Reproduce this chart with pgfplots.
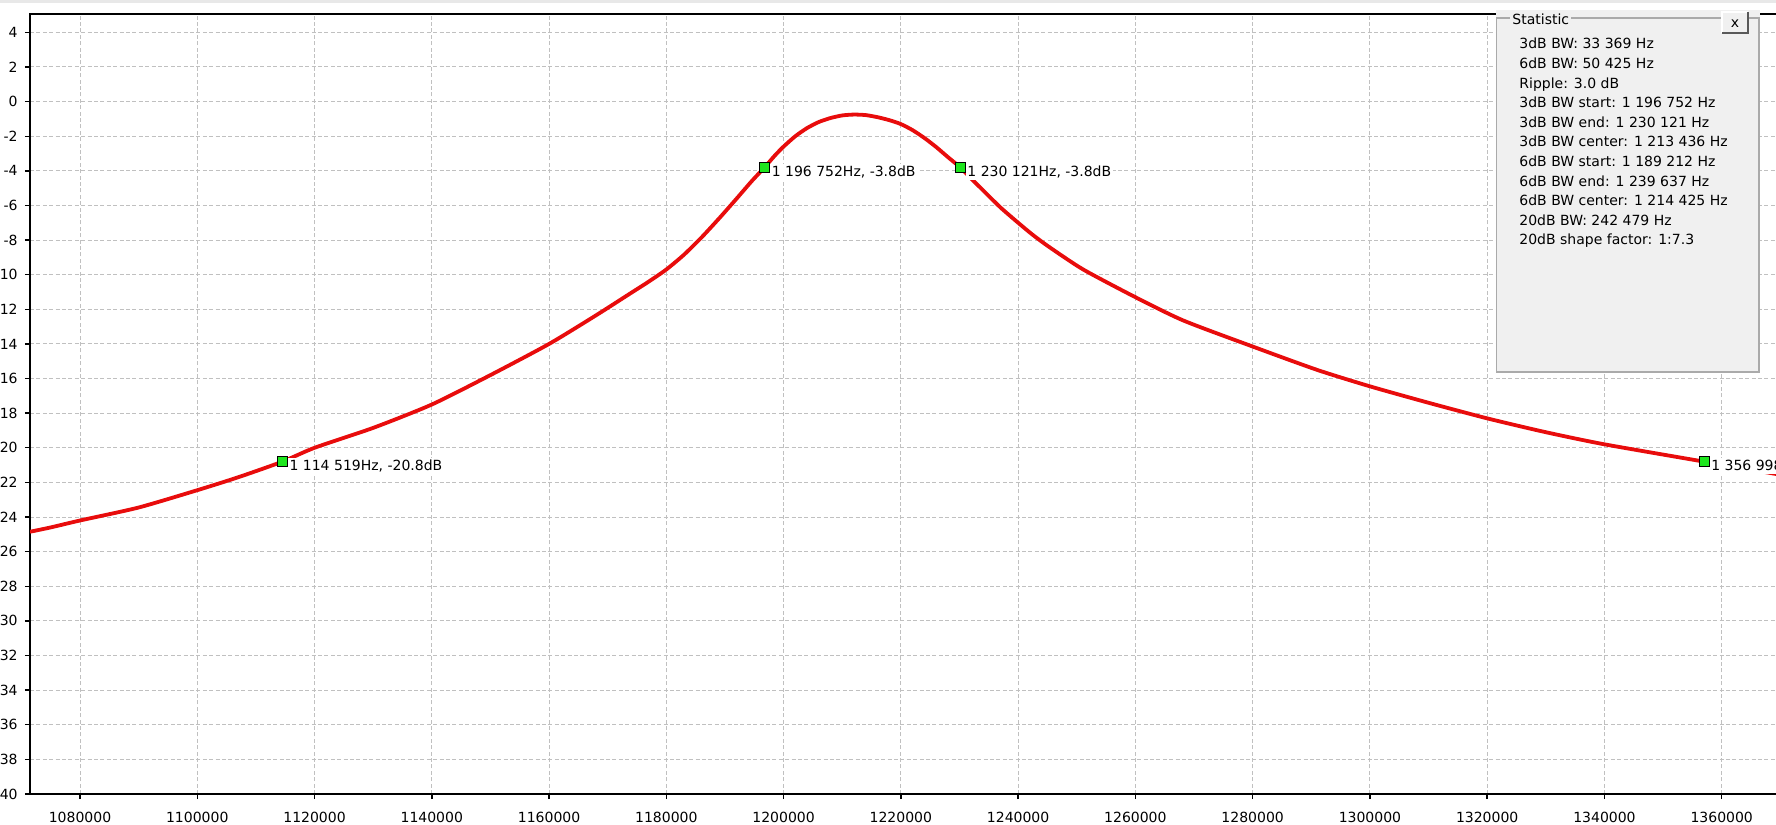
\documentclass[border=0pt]{standalone}
\usepackage{pgfplots}
\pgfplotsset{compat=1.18}
\usepackage{fontspec}
\setmainfont{DejaVu Sans}
\definecolor{curvered}{RGB}{232,12,12}
\definecolor{mgreen}{RGB}{30,230,30}
\definecolor{gridgray}{RGB}{192,192,192}
\definecolor{panelgray}{RGB}{240,240,240}
\definecolor{framegray}{RGB}{170,170,170}
\begin{document}
\begin{tikzpicture}[font=\fontsize{7}{8.4}\selectfont]
\useasboundingbox (-15pt,-15pt) rectangle (873pt,397pt);
\clip (-15pt,-15pt) rectangle (873pt,397pt);
\fill[gray!18] (-15pt,395.6pt) rectangle (873pt,397pt);
\begin{axis}[
  at={(0pt,0pt)}, anchor=south west,
  scale only axis, width=875pt, height=390pt,
  xmin=1071472, xmax=1369943, ymin=-40, ymax=5.06,
  axis line style={black, line width=0.9pt},
  tick align=outside, major tick length=2.5pt,
  tick style={black, line width=0.7pt},
  xtick pos=bottom, ytick pos=left,
  xtick={1080000,1100000,1120000,1140000,1160000,1180000,1200000,1220000,1240000,1260000,1280000,1300000,1320000,1340000,1360000},
  xticklabels={1080000,1100000,1120000,1140000,1160000,1180000,1200000,1220000,1240000,1260000,1280000,1300000,1320000,1340000,1360000},
  ytick={-40,-38,...,4},
  /pgf/number format/assume math mode=true,
  xticklabel style={inner sep=0pt, anchor=north},
  xticklabel shift=6.5pt,
  yticklabel style={inner sep=0pt, anchor=east},
  yticklabel shift=3.5pt,
  grid=major,
  major grid style={gridgray, dash pattern=on 2pt off 1.2pt, line width=0.5pt},
]
\addplot[curvered, line width=1.9pt, smooth, tension=0.4] coordinates {
(1071472,-24.85) (1075000,-24.6) (1080000,-24.2) (1090000,-23.45)
(1100000,-22.45) (1107000,-21.7) (1114519,-20.8) (1120000,-20.0)
(1130000,-18.85) (1140000,-17.5) (1150000,-15.8)
(1160000,-14.0) (1168000,-12.35) (1174000,-11.05) (1177000,-10.4)
(1180000,-9.7) (1183000,-8.85) (1186000,-7.85) (1189000,-6.75)
(1192000,-5.6) (1194500,-4.62) (1196752,-3.8) (1198500,-3.12)
(1200000,-2.6) (1202000,-2.0) (1204000,-1.53) (1206000,-1.18)
(1208000,-0.95) (1210000,-0.8) (1212000,-0.75) (1214000,-0.78)
(1216000,-0.9) (1218000,-1.07) (1220000,-1.3) (1222000,-1.65)
(1224000,-2.1) (1226000,-2.62) (1228000,-3.2) (1230121,-3.8)
(1232000,-4.45) (1234000,-5.12) (1237000,-6.12) (1240000,-7.0)
(1242500,-7.7) (1245300,-8.4) (1251100,-9.7) (1260000,-11.3)
(1268200,-12.65) (1280000,-14.15) (1291000,-15.5) (1300000,-16.45)
(1310000,-17.4) (1320000,-18.3) (1330000,-19.1) (1340000,-19.8)
(1356998,-20.8) (1369900,-21.55)
};
\node[anchor=base west, fill=white, inner sep=0.8pt, xshift=2.6pt, yshift=-4.5pt] at (axis cs:1114519,-20.8) {1 114 519Hz, -20.8dB};
\node[anchor=base west, fill=white, inner sep=0.8pt, xshift=2.6pt, yshift=-4.5pt] at (axis cs:1196752,-3.8) {1 196 752Hz, -3.8dB};
\node[anchor=base west, fill=white, inner sep=0.8pt, xshift=2.6pt, yshift=-4.5pt] at (axis cs:1230121,-3.8) {1 230 121Hz, -3.8dB};
\node[anchor=base west, fill=white, inner sep=0.8pt, xshift=2.6pt, yshift=-4.5pt] at (axis cs:1356998,-20.8) {1 356 998Hz, -20.8dB};
\addplot[only marks, mark=square*, mark size=2.5pt, mark options={fill=mgreen, draw=black, line width=0.5pt}] coordinates {(1114519,-20.8) (1196752,-3.8) (1230121,-3.8) (1356998,-20.8)};
\end{axis}
% Statistic panel
\fill[panelgray] (733pt,210.75pt) rectangle (864.75pt,392pt);
\draw[framegray, line width=0.6pt] (733.3pt,211pt) rectangle (864.5pt,388pt);
\node[anchor=base west, fill=panelgray, inner sep=1pt] at (740pt,384.5pt) {Statistic};
\fill[panelgray] (846pt,380.5pt) rectangle (859pt,391pt);
\draw[white, line width=0.6pt] (846pt,380.5pt) -- (846pt,391pt) -- (859pt,391pt);
\draw[gray!70!black, line width=0.6pt] (846pt,380.5pt) -- (859pt,380.5pt) -- (859pt,391pt);
\node[inner sep=0pt] at (852.5pt,385pt) {x};
\node[anchor=base west, inner sep=0pt] at (744.5pt,372.5pt) {3dB BW: 33 369 Hz};
\node[anchor=base west, inner sep=0pt] at (744.5pt,362.7pt) {6dB BW: 50 425 Hz};
\node[anchor=base west, inner sep=0pt] at (744.5pt,352.9pt) {Ripple: 3.0 dB};
\node[anchor=base west, inner sep=0pt] at (744.5pt,343.1pt) {3dB BW start: 1 196 752 Hz};
\node[anchor=base west, inner sep=0pt] at (744.5pt,333.3pt) {3dB BW end: 1 230 121 Hz};
\node[anchor=base west, inner sep=0pt] at (744.5pt,323.5pt) {3dB BW center: 1 213 436 Hz};
\node[anchor=base west, inner sep=0pt] at (744.5pt,313.7pt) {6dB BW start: 1 189 212 Hz};
\node[anchor=base west, inner sep=0pt] at (744.5pt,303.9pt) {6dB BW end: 1 239 637 Hz};
\node[anchor=base west, inner sep=0pt] at (744.5pt,294.1pt) {6dB BW center: 1 214 425 Hz};
\node[anchor=base west, inner sep=0pt] at (744.5pt,284.3pt) {20dB BW: 242 479 Hz};
\node[anchor=base west, inner sep=0pt] at (744.5pt,274.5pt) {20dB shape factor: 1:7.3};
\end{tikzpicture}
\end{document}
